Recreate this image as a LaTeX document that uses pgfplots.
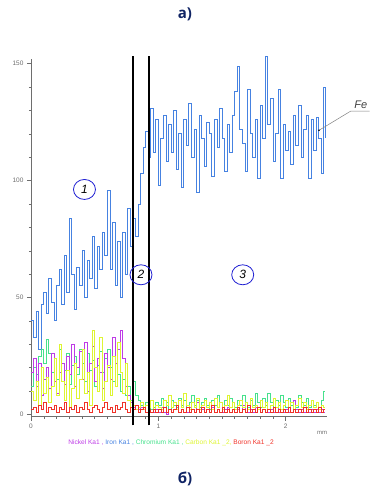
\documentclass[border=0pt]{standalone}
\usepackage{fontspec}
\setmainfont{Liberation Sans}
\newfontfamily\titlefont{Open Sans}
\usepackage{pgfplots}
\usepackage{pgfplotstable}
\pgfplotsset{compat=1.18}
\definecolor{fecol}{RGB}{70,130,225}
\definecolor{nicol}{RGB}{190,60,230}
\definecolor{crcol}{RGB}{70,225,140}
\definecolor{ccol}{RGB}{222,245,50}
\definecolor{bcol}{RGB}{240,50,40}
\definecolor{circ}{RGB}{30,30,210}
\definecolor{navy}{RGB}{15,35,100}
\definecolor{axg}{RGB}{110,110,110}

\pgfplotstableread{
x fe ni cr c b
0.00 40 18 12 10 2
0.02 33 24 20 6 3
0.04 44 12 17 14 1
0.06 28 22 25 4 4
0.08 47 8 28 20 2
0.10 52 15 22 9 5
0.12 43 20 32 16 1
0.14 58 11 26 5 3
0.16 48 26 18 12 2
0.18 40 14 24 24 4
0.20 55 9 15 8 1
0.22 62 18 28 30 3
0.24 47 22 22 14 2
0.26 68 13 19 6 5
0.28 52 25 26 19 1
0.30 84 17 13 3 3
0.32 60 30 21 11 2
0.34 45 12 25 22 4
0.36 63 20 17 7 1
0.38 55 27 28 15 3
0.40 70 15 22 28 2
0.42 50 31 14 9 5
0.44 66 10 26 18 2
0.46 58 22 19 4 1
0.48 76 29 23 36 3
0.50 54 14 12 20 4
0.52 72 24 21 10 2
0.54 62 18 27 33 1
0.56 78 11 18 6 3
0.58 68 26 24 14 5
0.60 96 20 28 21 2
0.62 62 15 20 8 3
0.64 82 33 14 25 1
0.66 55 22 22 12 4
0.68 74 28 17 31 2
0.70 50 36 10 18 3
0.72 78 24 15 9 5
0.74 60 12 8 22 2
0.76 88 8 12 6 1
0.78 72 5 6 3 3
0.80 84 3 14 4 2
0.82 76 4 8 2 4
0.84 90 2 6 3 1
0.86 103 3 4 5 2
0.88 114 2 3 2 3
0.90 121 1 5 4 1
0.92 110 2 3 3 2
0.94 131 1 2 6 1
0.96 112 1 3 2 2
0.98 126 2 5 4 1
1.00 98 1 4 3 2
1.02 118 3 7 2 1
1.04 128 1 3 6 3
1.06 108 0 5 4 1
1.08 124 2 2 8 2
1.10 112 1 6 3 1
1.12 130 2 4 5 2
1.14 105 4 3 2 4
1.16 120 1 7 6 1
1.18 97 2 4 3 2
1.20 126 1 6 9 1
1.22 115 1 3 4 3
1.24 133 3 5 2 1
1.26 110 2 8 5 2
1.28 122 1 4 3 1
1.30 95 5 6 7 2
1.32 128 1 3 2 1
1.34 118 2 5 4 3
1.36 106 1 7 6 1
1.38 125 2 4 3 2
1.40 120 1 2 5 1
1.42 102 3 6 2 4
1.44 126 1 4 7 1
1.46 114 2 8 3 2
1.48 131 1 5 5 1
1.50 118 1 3 2 3
1.52 104 2 6 4 1
1.54 124 3 4 8 2
1.56 112 1 7 3 1
1.58 128 2 5 5 2
1.60 138 1 3 2 1
1.62 149 2 6 4 3
1.64 122 1 4 6 1
1.66 116 4 8 3 2
1.68 104 1 5 5 1
1.70 139 1 3 2 4
1.72 120 2 6 7 1
1.74 110 1 4 3 2
1.76 126 3 9 4 1
1.78 101 2 5 2 3
1.80 132 1 3 6 1
1.82 118 2 7 3 2
1.84 153 1 4 5 1
1.86 124 1 9 2 2
1.88 135 2 5 4 1
1.90 108 1 3 7 3
1.92 120 3 6 3 1
1.94 139 1 4 5 2
1.96 101 2 8 2 1
1.98 124 1 5 4 2
2.00 113 2 3 6 1
2.02 121 1 7 3 3
2.04 107 1 4 5 1
2.06 128 6 6 2 2
2.08 115 2 3 4 1
2.10 132 1 8 7 2
2.12 110 2 5 3 1
2.14 122 1 4 5 3
2.16 128 3 7 2 1
2.18 101 1 3 4 2
2.20 126 2 6 6 1
2.22 113 1 4 3 2
2.24 127 2 5 5 1
2.26 118 1 3 2 3
2.28 103 2 6 4 1
2.30 140 1 10 3 2
2.31 118 1 10 3 2
}\eds

\begin{document}
\begin{tikzpicture}
\useasboundingbox (0pt,0pt) rectangle (370pt,488pt);
\node[font=\titlefont\bfseries\fontsize{15}{16}\selectfont, text=navy] at (185pt,474pt) {а)};
\node[font=\titlefont\bfseries\fontsize{15}{16}\selectfont, text=navy] at (185pt,9pt) {б)};
\begin{axis}[
  at={(31pt,71.3pt)}, anchor=south west,
  scale only axis, width=296pt, height=357.7pt,
  xmin=0, xmax=2.325, ymin=-1, ymax=152,
  axis lines=left,
  axis line style={-, draw=axg, line width=0.5pt},
  tick align=outside,
  xtick={0,1,2}, ytick={0,50,100,150},
  minor x tick num=9, minor y tick num=4,
  major tick length=4pt, minor tick length=2pt,
  tick style={draw=axg, line width=0.4pt},
  tick label style={font=\fontsize{6.5}{7}\selectfont, text=axg},
  /pgf/number format/assume math mode=true,
  clip=false,
]
\addplot[const plot, draw=fecol, line width=0.75pt, mark=none] table[x=x,y=fe]{\eds};
\addplot[const plot, draw=crcol, line width=0.7pt, mark=none] table[x=x,y=cr]{\eds};
\addplot[const plot, draw=nicol, line width=0.7pt, mark=none] table[x=x,y=ni]{\eds};
\addplot[const plot, draw=ccol, line width=0.7pt, mark=none] table[x=x,y=c]{\eds};
\addplot[const plot, draw=bcol, line width=0.7pt, mark=none] table[x=x,y=b]{\eds};

\draw[black, line width=1.6pt] (axis cs:0.799,-4.7) -- (axis cs:0.799,153.1);
\draw[black, line width=1.6pt] (axis cs:0.925,-4.7) -- (axis cs:0.925,153.1);

\draw[circ, line width=0.8pt] (axis cs:0.42,96.2) ellipse [x radius=11pt, y radius=10pt];
\node[font=\itshape\fontsize{12}{12}\selectfont] at (axis cs:0.42,96.2) {1};
\draw[circ, line width=0.8pt] (axis cs:0.864,59.7) ellipse [x radius=11pt, y radius=10pt];
\node[font=\itshape\fontsize{12}{12}\selectfont] at (axis cs:0.864,59.7) {2};
\draw[circ, line width=0.8pt] (axis cs:1.663,59.7) ellipse [x radius=11pt, y radius=10pt];
\node[font=\itshape\fontsize{12}{12}\selectfont] at (axis cs:1.663,59.7) {3};

\draw[gray, line width=0.5pt] (axis cs:2.262,121.5) -- (axis cs:2.511,129.7) -- (axis cs:2.66,129.7);
\fill[black] (axis cs:2.262,121.5) circle (0.9pt);
\node[font=\itshape\fontsize{11}{11}\selectfont, text=black!75, anchor=south] at (axis cs:2.59,129.2) {Fe};
\end{axis}
\node[font=\fontsize{6}{7}\selectfont, text=axg] at (322pt,54.7pt) {mm};
\node[font=\fontsize{6.6}{8}\selectfont] at (171pt,45.3pt) {\textcolor{nicol}{Nickel Ka1 ,} \textcolor{fecol}{Iron Ka1 ,} \textcolor{crcol}{Chromium Ka1 ,} \textcolor{ccol}{Carbon Ka1 \_2,} \textcolor{bcol}{Boron Ka1 \_2}};
\end{tikzpicture}
\end{document}
